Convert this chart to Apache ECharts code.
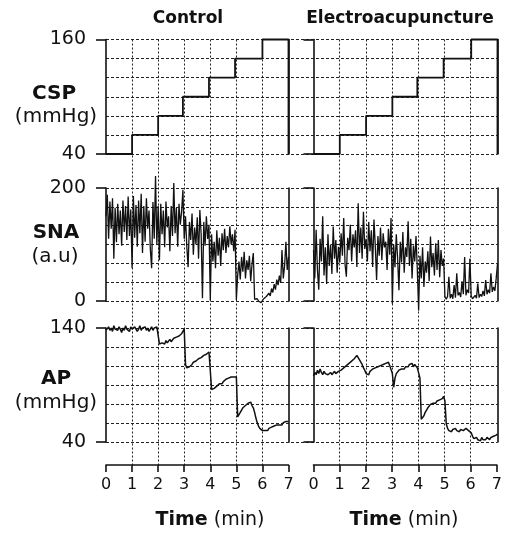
<!DOCTYPE html>
<html lang="en">
<head>
<meta charset="UTF-8">
<title>CSP / SNA / AP</title>
<style>html,body{margin:0;padding:0;background:#fff;}</style>
</head>
<body>
<div id="app" style="width:505px;height:535px;"></div>
<script src="https://cdn.jsdelivr.net/npm/echarts@6.0.0/dist/echarts.min.js"></script>
<script>
// ---- data ----
const timeTicks = [0, 1, 2, 3, 4, 5, 6, 7];
const sampleStep = 0.05; // min between samples of SNA / AP

const cspTicks = [40, 160];
const snaTicks = [0, 200];
const apTicks = [40, 140];

// carotid sinus pressure steps
const cspCtrlTimes = [0, 1, 2, 2.95, 3.95, 4.95, 6, 7, 7];
const cspCtrl = [40, 60, 80, 100, 120, 140, 160, 160, 40];
const cspEaTimes = [0, 1, 2, 3, 3.95, 4.95, 6, 7, 7];
const cspEa = [40, 60, 80, 100, 120, 140, 160, 160, 40];

// sympathetic nerve activity (a.u), one value every 0.05 min
const snaCtrl = [
  150, 188, 110, 176, 128, 182, 75, 165, 104, 172, 118, 160, 98, 178, 122, 168, 108, 185, 115, 162, 58,
  186, 112, 170, 96, 178, 120, 190, 85, 168, 105, 182, 128, 160, 92, 58, 175, 110, 221, 100, 168,
  72, 172, 118, 160, 95, 176, 130, 150, 88, 168, 115, 209, 120, 165, 96, 172, 135, 158, 197, 110,
  150, 95, 60, 140, 108, 155, 82, 130, 100, 148, 75, 161, 118, 5, 140, 98, 150, 110, 135, 1,
  118, 70, 105, 58, 125, 80, 112, 62, 120, 90, 128, 85, 115, 95, 132, 100, 118, 88, 126, 2,
  45, 70, 38, 78, 52, 87, 40, 72, 55, 80, 35, 65, 85, 3, 1, 4, 0, 2, -3, 0,
  4, 2, 8, 5, 14, 9, 22, 15, 30, 20, 38, 28, 45, 32, 90, 40, 62, 105, 55, 78
];
const snaEa = [
  90, 40, 126, 55, 20, 110, 70, 150, 45, 95, 30, 118, 62, 100, 48, 132, 75, 108, 50, 96, 68,
  120, 80, 147, 65, 43, 112, 90, 135, 70, 118, 95, 125, 60, 173, 85, 130, 75, 158, 92, 110,
  70, 140, 88, 125, 60, 144, 98, 37, 115, 80, 130, 72, 120, 95, 105, 55, 128, 82, 147, -5,
  100, 60, 118, 75, 19, 105, 68, 122, 50, 95, 78, 141, 62, 110, 40, 98, 70, 115, 55, -17,
  80, 40, 95, 25, 70, 50, 88, 35, 114, 60, 85, 45, 102, 55, 108, 42, 90, 62, 75, 8,
  3, 8, 43, 5, 12, 4, 28, 6, 49, 10, 15, 7, 35, 12, 78, 10, 20, 14, 75, 9,
  4, 2, 10, 5, 31, 6, 12, 8, 18, 9, 37, 12, 20, 14, 49, 16, 25, 18, 40, 66
];

// arterial pressure (mmHg), one value every 0.05 min
const apCtrl = [
  138, 139, 141, 138, 140, 137, 142, 139, 140, 138, 141, 139, 136, 140, 138, 142, 139, 140, 137, 141, 139,
  138, 141, 140, 137, 139, 142, 138, 140, 139, 141, 138, 140, 137, 139, 141, 138, 140, 139, 141, 142,
  126, 125, 127, 128, 126, 129, 127, 128, 130, 128, 129, 131, 130, 132, 131, 133, 134, 135, 137, 139,
  108, 105, 104, 106, 107, 108, 110, 109, 111, 112, 113, 112, 114, 115, 116, 115, 117, 118, 119, 120,
  86, 85, 87, 88, 89, 90, 91, 92, 91, 93, 94, 95, 94, 96, 96, 97, 96, 97, 98, 97,
  62, 64, 66, 68, 70, 69, 72, 71, 74, 73, 75, 72, 70, 66, 61, 57, 54, 52, 51, 50,
  49, 50, 51, 50, 52, 51, 53, 52, 54, 53, 55, 54, 55, 56, 55, 57, 56, 58, 57, 58
];
const apEa = [
  98, 101, 99, 103, 100, 104, 101, 99, 102, 100, 101, 99, 100, 101, 99, 100, 102, 100, 101, 102, 101,
  103, 102, 105, 104, 107, 106, 109, 108, 111, 110, 113, 112, 116, 114, 112, 110, 108, 105, 103, 100,
  101, 99, 102, 101, 104, 103, 105, 104, 106, 105, 107, 106, 108, 107, 109, 108, 110, 107, 106, 100,
  88, 96, 100, 101, 103, 102, 104, 105, 104, 106, 107, 106, 108, 107, 109, 106, 108, 107, 105, 104,
  96, 60, 60, 63, 66, 68, 70, 71, 73, 72, 74, 75, 74, 76, 75, 77, 76, 78, 80, 76,
  56, 52, 50, 51, 49, 51, 50, 52, 50, 51, 49, 51, 52, 50, 51, 52, 51, 50, 51, 48,
  45, 43, 42, 44, 42, 43, 41, 44, 42, 43, 42, 44, 43, 42, 44, 43, 45, 44, 46, 47
];

// ---- layout ----
const font = '"DejaVu Sans"';
const ink = '#111';
const hDash = {color: '#222', width: 1, type: [3, 2]};
const vDash = {color: '#222', width: 1, type: [2, 2]};
const colLeft = [106, 313.5];
const colWidth = [182.5, 184];
const rowTop = [39.5, 188, 328];
const rowHeight = [114.5, 113, 114];
const axisBottom = 465;

function pairs(times, vals) { return vals.map((v, i) => [times[i], v]); }
function sampled(vals) { return vals.map((v, i) => [+(i * sampleStep).toFixed(2), v]); }

const rows = [
  {min: 40, max: 160, ticks: cspTicks, lw: 1.8,
   data: [pairs(cspCtrlTimes, cspCtrl), pairs(cspEaTimes, cspEa)], step: 'end'},
  {min: 0, max: 200, ticks: snaTicks, lw: 1.3,
   data: [sampled(snaCtrl), sampled(snaEa)]},
  {min: 40, max: 140, ticks: apTicks, lw: 1.5,
   data: [sampled(apCtrl), sampled(apEa)]}
];

const grid = [], xAxis = [], yAxis = [], series = [];

rows.forEach((r, ri) => {
  // full-width strip for the horizontal dashed grid
  grid.push({left: colLeft[0], top: rowTop[ri], width: colLeft[1] + colWidth[1] - colLeft[0], height: rowHeight[ri]});
  let g = grid.length - 1;
  xAxis.push({type: 'value', gridIndex: g, min: 0, max: 1, show: false});
  yAxis.push({type: 'value', gridIndex: g, min: 0, max: 6, interval: 1,
    axisLine: {show: false}, axisTick: {show: false}, axisLabel: {show: false},
    splitLine: {show: true, lineStyle: hDash}});

  [0, 1].forEach(ci => {
    grid.push({left: colLeft[ci], top: rowTop[ri], width: colWidth[ci], height: rowHeight[ri]});
    g = grid.length - 1;
    xAxis.push({type: 'value', gridIndex: g, min: 0, max: 7, show: false});
    const yi = yAxis.length;
    yAxis.push({type: 'value', gridIndex: g, position: 'left', min: r.min, max: r.max,
      axisLine: {show: true, onZero: false, lineStyle: {color: ink, width: 1.6}},
      axisTick: {show: true, length: 10, customValues: r.ticks, lineStyle: {color: ink, width: 1.6}},
      axisLabel: {show: ci === 0, customValues: r.ticks, margin: 20,
        fontFamily: font, fontSize: 19, color: ink},
      splitLine: {show: false}});
    yAxis.push({type: 'value', gridIndex: g, position: 'right', min: r.min, max: r.max,
      axisLine: {show: true, onZero: false, lineStyle: {color: ink, width: 1.6}},
      axisTick: {show: false}, axisLabel: {show: false}, splitLine: {show: false}});
    series.push({type: 'line', xAxisIndex: xAxis.length - 1, yAxisIndex: yi,
      data: r.data[ci], step: r.step || false, symbol: 'none', clip: false,
      animation: false, lineStyle: {color: ink, width: r.lw}, z: 3});
  });
});

// column frames: vertical dashed grid + time axis
[0, 1].forEach(ci => {
  grid.push({left: colLeft[ci], top: rowTop[0], width: colWidth[ci], height: axisBottom - rowTop[0]});
  const g = grid.length - 1;
  xAxis.push({type: 'value', gridIndex: g, min: timeTicks[0], max: timeTicks[timeTicks.length - 1], interval: 1,
    position: 'bottom',
    axisLine: {show: true, onZero: false, lineStyle: {color: ink, width: 1.6}},
    axisTick: {show: true, length: 7, lineStyle: {color: ink, width: 1.6}},
    axisLabel: {margin: 12, fontFamily: font, fontSize: 16, color: ink},
    splitLine: {show: true, showMinLine: false, showMaxLine: false, lineStyle: vDash}});
  yAxis.push({type: 'value', gridIndex: g, min: 0, max: 1, show: false});
});

const txt = (x, y, text, size, bold) => ({
  type: 'text', x: x, y: y, silent: true,
  style: {text: text, align: 'center', verticalAlign: 'middle', fill: ink,
    font: (bold ? 'bold ' : '') + size + 'px ' + font}
});
const timeTitle = x => ({
  type: 'text', x: x, y: 520, silent: true,
  style: {text: '{b|Time} (min)', align: 'center', verticalAlign: 'middle', fill: ink,
    font: '19px ' + font, rich: {b: {font: 'bold 19px ' + font, fill: ink}}}
});

const graphic = [
  txt(188, 19, 'Control', 17, true),
  txt(400, 19, 'Electroacupuncture', 17, true),
  txt(54, 94, 'CSP', 20, true),
  txt(56, 117, '(mmHg)', 20, false),
  txt(56, 233, 'SNA', 20, true),
  txt(55, 257, '(a.u)', 20, false),
  txt(56, 379, 'AP', 20, true),
  txt(56, 403, '(mmHg)', 20, false),
  timeTitle(210),
  timeTitle(404)
];

const myChart = echarts.init(document.getElementById('app'));
myChart.setOption({
  animation: false,
  backgroundColor: '#fff',
  grid: grid,
  xAxis: xAxis,
  yAxis: yAxis,
  series: series,
  graphic: graphic
});
</script>
</body>
</html>
